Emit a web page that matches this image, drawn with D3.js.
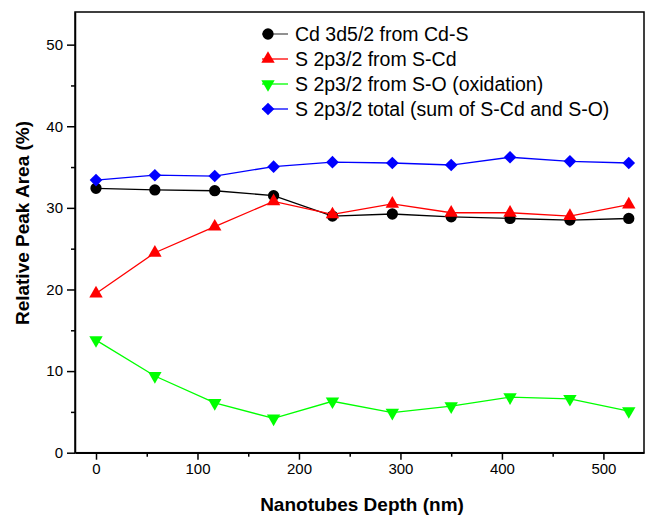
<!DOCTYPE html>
<html>
<head>
<meta charset="utf-8">
<script src="https://cdn.jsdelivr.net/npm/d3@7"></script>
<style>
  html, body { margin: 0; padding: 0; background: #fff; }
  svg { display: block; font-family: Arial, "Liberation Sans", sans-serif; }
</style>
</head>
<body>
<svg id="chart" width="645" height="517"></svg>
<script>
const depth = [0, 58, 117, 175, 233, 292, 350, 408, 467, 525];
const cdS   = [32.4, 32.2, 32.1, 31.5, 29.0, 29.25, 28.9, 28.7, 28.5, 28.7];
const sCd   = [19.5, 24.5, 27.7, 30.8, 29.2, 30.5, 29.4, 29.4, 29.0, 30.4];
const sO    = [13.8, 9.4, 6.1, 4.2, 6.3, 4.9, 5.7, 6.8, 6.6, 5.1];
const sTot  = [33.4, 34.0, 33.9, 35.05, 35.6, 35.5, 35.25, 36.2, 35.7, 35.5];
const seriesNames = [
  "Cd 3d5/2 from Cd-S",
  "S 2p3/2 from S-Cd",
  "S 2p3/2 from S-O (oxidation)",
  "S 2p3/2 total (sum of S-Cd and S-O)"
];
const xTicks = [0, 100, 200, 300, 400, 500];
const yTicks = [0, 10, 20, 30, 40, 50];
const xTitle = "Nanotubes Depth (nm)";
const yTitle = "Relative Peak Area (%)";

(function () {
const series = [
  { name: seriesNames[0], values: cdS,  color: "#000000", symbol: "circle" },
  { name: seriesNames[1], values: sCd,  color: "#ff0000", symbol: "up" },
  { name: seriesNames[2], values: sO,   color: "#00ff00", symbol: "down" },
  { name: seriesNames[3], values: sTot, color: "#0000ff", symbol: "diamond" }
];

const svg = d3.select("#chart");
const pLeft = 75, pRight = 644, pTop = 12, pBottom = 452.7;
const x = d3.scaleLinear().domain([-20.7, 540]).range([pLeft, pRight]);
const y = d3.scaleLinear().domain([0, 54]).range([pBottom, pTop]);

svg.append("rect").attr("x", pLeft).attr("y", pTop)
  .attr("width", pRight - pLeft).attr("height", pBottom - pTop)
  .attr("fill", "none").attr("stroke", "#000").attr("stroke-width", 1.5);

const xAxis = d3.axisBottom(x).tickValues(xTicks).tickSize(7).tickPadding(4).tickSizeOuter(0);
const gx = svg.append("g").attr("transform", `translate(0,${pBottom})`).call(xAxis);
gx.select(".domain").attr("stroke-width", 1.5);
gx.selectAll(".tick line").attr("stroke-width", 1.5);
gx.selectAll("text").attr("font-size", 15).attr("font-family", "Arial, 'Liberation Sans', sans-serif").attr("fill", "#000");
const xMinor = d3.axisBottom(x).tickValues([50, 150, 250, 350, 450]).tickSize(4).tickFormat("").tickSizeOuter(0);
const gxm = svg.append("g").attr("transform", `translate(0,${pBottom})`).call(xMinor);
gxm.select(".domain").remove();
gxm.selectAll(".tick line").attr("stroke-width", 1.5);

const yAxis = d3.axisLeft(y).tickValues(yTicks).tickSize(8).tickPadding(4).tickSizeOuter(0);
const gy = svg.append("g").attr("transform", `translate(${pLeft},0)`).call(yAxis);
gy.select(".domain").attr("stroke-width", 1.5);
gy.selectAll(".tick line").attr("stroke-width", 1.5);
gy.selectAll("text").attr("font-size", 15).attr("font-family", "Arial, 'Liberation Sans', sans-serif").attr("fill", "#000");
const yMinor = d3.axisLeft(y).tickValues([5, 15, 25, 35, 45]).tickSize(4).tickFormat("").tickSizeOuter(0);
const gym = svg.append("g").attr("transform", `translate(${pLeft},0)`).call(yMinor);
gym.select(".domain").remove();
gym.selectAll(".tick line").attr("stroke-width", 1.5);

svg.append("text").attr("x", 362).attr("y", 511).attr("text-anchor", "middle")
  .attr("font-size", 19).attr("font-weight", "bold").text(xTitle);
svg.append("text").attr("transform", "translate(29,223) rotate(-90)").attr("text-anchor", "middle")
  .attr("font-size", 19).attr("font-weight", "bold").text(yTitle);

function symbolPath(sym) {
  if (sym === "circle") return d3.symbol().type(d3.symbolCircle).size(100)();
  if (sym === "up") return d3.symbol().type(d3.symbolTriangle).size(78)();
  if (sym === "down") return d3.symbol().type(d3.symbolTriangle).size(78)();
  return d3.symbol().type(d3.symbolSquare).size(80)();
}
function symTransform(sym, px, py) {
  if (sym === "down") return `translate(${px},${py}) rotate(180)`;
  if (sym === "diamond") return `translate(${px},${py}) rotate(45)`;
  return `translate(${px},${py})`;
}

const line = d3.line().x(d => x(d[0])).y(d => y(d[1]));
series.forEach(s => {
  const pts = depth.map((d, i) => [d, s.values[i]]);
  svg.append("path").datum(pts).attr("d", line)
    .attr("fill", "none").attr("stroke", s.color).attr("stroke-width", 1.3);
  svg.append("g").selectAll("path").data(pts).join("path")
    .attr("d", symbolPath(s.symbol))
    .attr("transform", d => symTransform(s.symbol, x(d[0]), y(d[1])))
    .attr("fill", s.color);
});

const legY0 = 34, legDy = 25;
series.forEach((s, i) => {
  const ly = legY0 + i * legDy;
  svg.append("line").attr("x1", 262).attr("x2", 288).attr("y1", ly).attr("y2", ly)
    .attr("stroke", s.color === "#000000" ? "#555" : s.color).attr("stroke-width", 1.3);
  svg.append("path").attr("d", symbolPath(s.symbol))
    .attr("transform", symTransform(s.symbol, 268, ly)).attr("fill", s.color);
  svg.append("text").attr("x", 295).attr("y", ly).attr("dy", "0.35em")
    .attr("font-size", 19.5).attr("fill", "#000").text(s.name);
});
})();
</script>
</body>
</html>
